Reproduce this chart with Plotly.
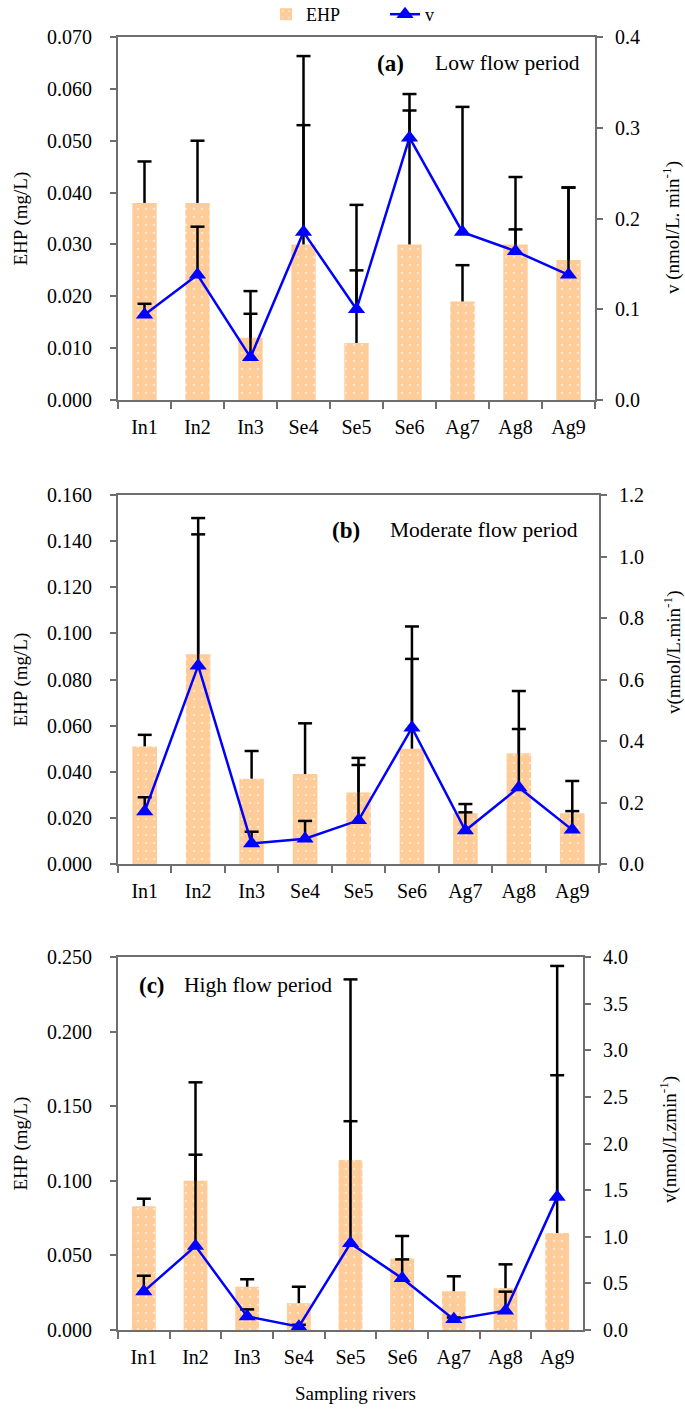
import plotly.graph_objects as go

# ---------------- data ----------------
cats = ["In1", "In2", "In3", "Se4", "Se5", "Se6", "Ag7", "Ag8", "Ag9"]

ehp_low = [0.038, 0.038, 0.012, 0.030, 0.011, 0.030, 0.019, 0.030, 0.027]
ehp_low_sd = [0.008, 0.012, 0.009, 0.023, 0.014, 0.029, 0.007, 0.013, 0.014]
v_low = [0.094, 0.138, 0.047, 0.185, 0.100, 0.289, 0.185, 0.164, 0.138]
v_low_sd = [0.012, 0.053, 0.048, 0.194, 0.115, 0.030, 0.138, 0.024, 0.096]

ehp_mod = [0.051, 0.091, 0.037, 0.039, 0.031, 0.050, 0.022, 0.048, 0.022]
ehp_mod_sd = [0.005, 0.059, 0.012, 0.022, 0.015, 0.053, 0.004, 0.027, 0.014]
v_mod = [0.171, 0.645, 0.067, 0.082, 0.142, 0.443, 0.109, 0.249, 0.111]
v_mod_sd = [0.046, 0.427, 0.038, 0.058, 0.180, 0.224, 0.059, 0.190, 0.061]

ehp_high = [0.083, 0.100, 0.029, 0.018, 0.114, 0.048, 0.026, 0.028, 0.065]
ehp_high_sd = [0.005, 0.066, 0.005, 0.011, 0.121, 0.015, 0.010, 0.016, 0.179]
v_high = [0.414, 0.900, 0.146, 0.036, 0.929, 0.554, 0.114, 0.207, 1.425]
v_high_sd = [0.168, 0.980, 0.075, 0.020, 1.310, 0.203, 0.020, 0.204, 1.307]

panel_labels = ["(a)", "(b)", "(c)"]
panel_titles = ["Low flow period", "Moderate flow period", "High flow period"]
left_ranges = [(0.070, 0.010), (0.160, 0.020), (0.250, 0.050)]
right_ranges = [(0.4, 0.1), (1.2, 0.2), (4.0, 0.5)]
right_titles = ["v (nmol/L. min<sup>-1</sup>)", "v(nmol/L.min<sup>-1</sup>)", "v(nmol/Lzmin<sup>-1</sup>)"]

# ---------------- layout geometry (pixels) ----------------
W, H = 685, 1418
boxes = [(118, 595, 37, 400), (118, 599, 495, 864), (118, 583, 957, 1330)]
label_pos = [((390, 63), (507, 63)), ((346, 530), (484, 530)), ((152, 985), (258, 985))]
right_title_pos = [(672, 228), (672, 653), (668, 1140)]

FONT = "Liberation Serif"
BAR = "#FFCC99"
BLUE = "#0000FF"
AX = "#6E6E6E"


def fx(x):
    return x / W


def fy(y):
    return 1 - y / H


def err_traces(xs, vals, sds, yaxis, xaxis):
    sx, sy, cx, cy = [], [], [], []
    for c, v, s in zip(xs, vals, sds):
        sx += [c, c, None]
        sy += [v, v + s, None]
        cx.append(c)
        cy.append(v + s)
    stem = go.Scatter(x=sx, y=sy, mode="lines", line=dict(color="black", width=2.5),
                      xaxis=xaxis, yaxis=yaxis, showlegend=False, hoverinfo="skip")
    cap = go.Scatter(x=cx, y=cy, mode="markers",
                     marker=dict(symbol="line-ew", size=10, line=dict(color="black", width=2.5)),
                     xaxis=xaxis, yaxis=yaxis, showlegend=False, hoverinfo="skip")
    return [stem, cap]


fig = go.Figure()
datasets = [(ehp_low, ehp_low_sd, v_low, v_low_sd),
            (ehp_mod, ehp_mod_sd, v_mod, v_mod_sd),
            (ehp_high, ehp_high_sd, v_high, v_high_sd)]

layout = {}
annotations = []


def ann(x, y, text, size, angle=0):
    annotations.append(dict(x=fx(x), y=fy(y), xref="paper", yref="paper", showarrow=False,
                            xanchor="center", yanchor="middle", text=text, textangle=angle,
                            font=dict(family=FONT, size=size, color="black")))


for i, (ehp, ehp_sd, v, v_sd) in enumerate(datasets):
    xa = "x" if i == 0 else f"x{i+1}"
    ya = "y" if i == 0 else f"y{i+1}"
    yr = f"y{i+4}"
    fig.add_trace(go.Bar(x=cats, y=ehp, name="EHP", xaxis=xa, yaxis=ya, width=0.46,
                         marker=dict(color=BAR, line=dict(width=0),
                                     pattern=dict(shape=".", fgcolor="white", bgcolor=BAR,
                                                  size=8, solidity=0.08)),
                         showlegend=(i == 0), legend="legend"))
    for t in err_traces(cats, ehp, ehp_sd, ya, xa):
        fig.add_trace(t)
    for t in err_traces(cats, v, v_sd, yr, xa):
        fig.add_trace(t)
    fig.add_trace(go.Scatter(x=cats, y=v, name="v", mode="lines+markers", xaxis=xa, yaxis=yr,
                             line=dict(color=BLUE, width=2.5),
                             marker=dict(symbol="triangle-up", size=15, color=BLUE),
                             showlegend=(i == 0), legend="legend2"))

    x0, x1, y0, y1 = boxes[i]
    tickfont = dict(family=FONT, size=20, color="black")
    layout["xaxis" if i == 0 else f"xaxis{i+1}"] = dict(
        domain=[fx(x0), fx(x1)], anchor=ya, type="category", range=[-0.5, 8.5],
        tickson="boundaries", ticks="outside", ticklen=7, tickcolor=AX, tickwidth=1.5,
        showline=True, mirror=True, linecolor=AX, linewidth=2, showgrid=False,
        tickfont=tickfont, ticklabelstandoff=8, automargin=False)
    lmax, ldt = left_ranges[i]
    layout["yaxis" if i == 0 else f"yaxis{i+1}"] = dict(
        domain=[fy(y1), fy(y0)], anchor=xa, range=[0, lmax], dtick=ldt, tickformat=".3f",
        ticks="outside", ticklen=6, tickcolor=AX, tickwidth=1.5, showline=True, linecolor=AX,
        linewidth=2, showgrid=False, zeroline=False, tickfont=tickfont, ticklabelstandoff=14,
        automargin=False)
    rmax, rdt = right_ranges[i]
    layout[f"yaxis{i+4}"] = dict(
        overlaying=ya, side="right", anchor=xa, range=[0, rmax], dtick=rdt, tickformat=".1f",
        ticks="outside", ticklen=6, tickcolor=AX, tickwidth=1.5, showline=True, linecolor=AX,
        linewidth=2, showgrid=False, zeroline=False, tickfont=tickfont, ticklabelstandoff=8,
        automargin=False)

    (lx, ly), (tx, ty) = label_pos[i]
    ann(lx, ly, "<b>" + panel_labels[i] + "</b>", 23)
    ann(tx, ty, panel_titles[i], 21.5)
    yc = (y0 + y1) / 2
    ann(20, yc, "EHP (mg/L)", 19, -90)
    rx, ry = right_title_pos[i]
    ann(rx, ry, right_titles[i], 19, -90)

ann(355, 1393, "Sampling rivers", 19)

legend_style = dict(orientation="h", y=1 + 4 / H, yanchor="top", xanchor="left",
                    font=dict(family=FONT, size=18, color="black"),
                    bgcolor="rgba(0,0,0,0)")

fig.update_layout(
    width=W, height=H, margin=dict(l=0, r=0, t=0, b=0, autoexpand=False),
    paper_bgcolor="white", plot_bgcolor="white",
    showlegend=True,
    legend=dict(x=fx(266), **legend_style),
    legend2=dict(x=fx(385), **legend_style),
    annotations=annotations,
    **layout,
)

fig.write_html("out.html", config={"displayModeBar": False},
               post_script="document.body.style.margin='0px';document.body.style.overflow='hidden';")
